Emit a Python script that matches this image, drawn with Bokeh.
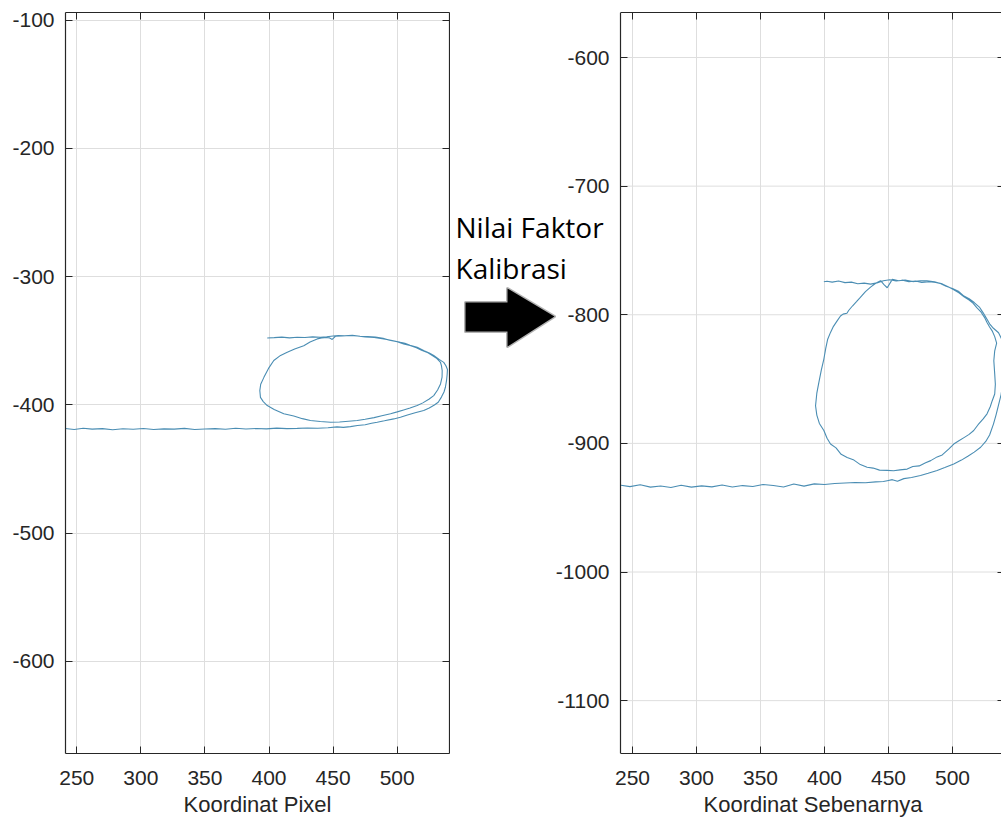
from bokeh.plotting import figure
from bokeh.layouts import row
from bokeh.models import Range1d, LinearAxis, FixedTicker, Label, PolyAnnotation, Title
from bokeh.embed import file_html
from bokeh.resources import INLINE

# ---------------- data ----------------
x_ticks = [250, 300, 350, 400, 450, 500]
y_ticks_pixel = [-100, -200, -300, -400, -500, -600]
y_ticks_real = [-600, -700, -800, -900, -1000, -1100]
y_labels_pixel = ["-100", "-200", "-300", "-400", "-500", "-600"]
y_labels_real = ["-600", "-700", "-800", "-900", "-1000", "-1100"]
x_label_pixel = "Koordinat Pixel"
x_label_real = "Koordinat Sebenarnya"
note_lines = ["Nilai Faktor", "Kalibrasi"]

# trajectory in pixel coordinates (left panel)
pix_x = [241, 248, 255, 262, 270, 278, 286, 294, 302, 310, 318, 326, 334, 342, 350, 358, 366, 374,
         382, 390, 398, 406, 414, 422, 430, 438, 446,
         453, 458, 463.5, 469, 475, 480, 484.4, 490, 497.3, 502.5, 508, 514, 520.7, 525, 529, 532,
         534.5, 536.5, 537.6, 538.5, 539, 539.2, 538, 536.3, 533, 528.5, 525, 521, 515.6, 510, 506,
         502.5, 496, 489.5, 482, 475, 469, 463.5, 457, 452, 449.3, 447, 445.4,
         441, 437.6, 432, 427.1, 420, 414.2, 409, 403.7, 400, 396, 393.5, 392.8, 393.3, 395.5, 398.6,
         404, 411.5, 419.3, 426, 432.3, 440, 448, 455, 462, 468.8, 475, 482, 488, 494.8, 500, 505, 510,
         515.6, 520, 525, 528.5, 531.5, 533.8, 535, 535.1, 534.5, 533.8, 531, 528, 524, 519, 515, 510,
         505, 500, 494, 489, 483, 477, 471, 465, 459, 454, 450, 445,
         440, 434, 428, 422, 416, 410, 404, 398.6]
pix_y = [-418.5, -419.2, -418.3, -419.0, -418.6, -419.4, -418.7, -419.1, -418.5, -419.3, -418.8, -419.0,
         -418.4, -419.2, -418.9, -418.6, -419.1, -418.3, -418.9, -418.5, -418.8, -418.2, -418.6, -418.4,
         -418.1, -418.3, -417.9,
         -417.2, -417.6, -417.0, -416.2, -415.5, -414.4, -413.6, -412.5, -411.0, -409.7, -408.0, -406.2,
         -404.5, -402.5, -400.2, -398.0, -394.0, -390.0, -386.3, -381.0, -376.0, -372.5, -369.5, -366.9,
         -364.8, -361.6, -359.6, -357.8, -355.2, -353.5, -352.0, -351.3, -349.8, -348.6, -347.5, -347.0,
         -346.4, -346.0, -346.3, -346.5, -349.0, -347.8, -347.4,
         -347.9, -348.6, -351.0, -353.9, -356.5, -359.0, -361.5, -365.5, -371.0, -378.6, -384.0, -388.9,
         -394.2, -397.5, -400.6, -403.6, -407.0, -408.8, -410.8, -412.3, -413.0, -413.6, -413.4, -412.8,
         -412.3, -411.3, -410.0, -408.6, -407.0, -405.5, -404.0, -402.5, -400.6, -398.5, -395.5, -392.8,
         -388.5, -383.7, -378.5, -373.3, -369.5, -367.0, -364.0, -362.0, -359.5, -357.5, -355.5, -353.8,
         -352.5, -350.8, -349.7, -348.2, -347.2, -346.8, -346.5, -345.8, -346.2, -346.0, -346.4, -346.9,
         -347.3, -347.0, -347.5, -347.3, -347.8, -347.2, -347.6, -347.9]

# trajectory in real coordinates (right panel)
real_x = [241, 248, 256, 264, 272, 280, 288, 296, 304, 312, 320, 328, 336, 344, 352, 360, 368, 376,
          384, 392, 400, 408, 416, 424, 432, 440, 446,
          449, 453, 457, 462, 468, 475, 481, 488, 494, 501, 507, 512, 517, 522, 526, 529, 532, 534,
          536, 538, 539.5, 540.5, 540, 538.5, 536, 532, 529, 527, 524, 521, 517, 513, 509, 505, 500,
          495, 490, 486, 480, 475, 469, 463, 458, 453, 449, 446.5, 443.8,
          440, 436, 432, 428, 425, 422, 419, 417.5, 414.5, 412.5, 410, 407, 404.7, 402.5, 401, 399.5,
          397.5, 395.6, 394, 393, 394, 396, 399.5, 402, 404.7, 409, 413, 417.7, 423, 428, 433.3, 438,
          443, 449, 454, 459, 464.6, 469, 474, 479, 483, 488, 492, 497, 501, 505, 509, 513, 516.6, 520,
          524, 527, 529.5, 531, 533, 533.5, 533, 532.3, 533, 534.5, 533, 531, 529, 527, 525, 522, 519,
          516, 513, 509, 505, 501, 497, 492, 487, 482, 476, 471, 466, 461, 456, 451, 446,
          441, 436, 431, 426, 421, 416, 411, 406, 402, 399.5]
real_y = [-932.5, -933.6, -932.2, -934.0, -933.1, -934.3, -932.6, -934.0, -933.0, -933.8, -932.4, -933.9,
          -932.8, -933.5, -932.0, -932.8, -933.9, -931.6, -933.2, -931.5, -932.0, -931.2, -930.8, -930.4,
          -930.6, -929.9, -929.6,
          -929.0, -928.2, -929.5, -927.4, -926.5, -925.0, -923.2, -921.0, -918.8, -916.0, -913.0, -910.0,
          -906.8, -903.0, -898.5, -893.5, -885.0, -878.0, -870.0, -862.0, -852.0, -840.0, -828.0, -819.0,
          -814.0, -810.5, -807.0, -803.5, -798.5, -794.0, -790.5, -787.5, -785.5, -782.0, -779.5, -777.8,
          -775.5, -774.4, -773.6, -773.5, -774.2, -773.0, -773.6, -772.5, -779.0, -776.5, -773.5,
          -775.5, -778.5, -782.0, -786.5, -789.8, -793.0, -796.5, -798.8, -799.5, -801.0, -804.6, -809.0,
          -813.7, -819.0, -826.0, -834.4, -843.0, -852.6, -861.0, -870.7, -878.0, -884.5, -890.0, -896.0,
          -900.5, -903.5, -908.5, -911.0, -913.0, -916.5, -918.6, -919.2, -920.8, -921.0, -921.3, -920.6,
          -920.0, -918.0, -917.5, -915.0, -913.4, -910.5, -909.0, -904.5, -900.5, -898.0, -895.5, -893.0,
          -890.0, -885.5, -881.0, -877.0, -871.5, -867.0, -861.6, -854.0, -846.0, -835.7, -828.0, -822.0,
          -817.0, -812.5, -809.5, -806.0, -802.0, -797.5, -794.5, -791.0, -788.5, -786.0, -783.0, -780.5,
          -778.5, -776.0, -774.8, -774.2, -774.8, -773.8, -774.3, -773.2, -773.8, -772.8, -773.6,
          -775.2, -776.2, -775.4, -775.9, -774.6, -775.0, -773.8, -774.6, -774.0, -774.3]

# ---------------- styling ----------------
LINE_COLOR = "#4a8db3"
AXIS_COLOR = "#262626"
GRID_COLOR = "#dedede"
FONT = "Liberation Sans"
FS = "21px"
FS_LABEL = "22px"

H = 820
FRAME_TOP, FRAME_BOTTOM = 12, 753

# left panel: frame x 65..449
X1 = (241.2, 540.8)
Y1 = (-671.9, -94.1)
# right panel: axes box x 620..1004 (past the page edge); figure frame starts at 450 (room for the note)
X2A, X2E = 240.6, 538.3
Y2 = (-1141.1, -565.0)
P2_LEFT, P2_AXIS, P2_RIGHT, P2_BOX_RIGHT = 450, 620, 1001, 1004
SX2 = (P2_RIGHT - P2_AXIS) / (X2E - X2A)
X2 = (X2A - (P2_AXIS - P2_LEFT) / SX2, X2E)
TITLE2_LEFT = 703   # left edge of the right panel's x-axis title (page px)


def style_axis(ax, ticks, labels=None):
    ax.ticker = FixedTicker(ticks=ticks)
    ax.major_tick_in = 7
    ax.major_tick_out = 0
    ax.minor_tick_in = 0
    ax.minor_tick_out = 0
    ax.axis_line_color = AXIS_COLOR
    ax.axis_line_width = 1.2
    ax.major_tick_line_color = AXIS_COLOR
    ax.major_label_text_font = FONT
    ax.major_label_text_font_size = FS
    ax.major_label_text_color = AXIS_COLOR
    if labels is not None:
        ax.major_label_overrides = {t: s for t, s in zip(ticks, labels)}


def mirror_axis(p, place, ticks, bounds=None, fixed=None):
    ax = LinearAxis(ticker=FixedTicker(ticks=ticks), major_tick_in=7, major_tick_out=0,
                    minor_tick_in=0, minor_tick_out=0, major_label_text_font_size="1px",
                    major_label_text_color=None, major_label_standoff=0,
                    axis_line_color=AXIS_COLOR, axis_line_width=1.2,
                    major_tick_line_color=AXIS_COLOR)
    if bounds is not None:
        ax.bounds = bounds
    if fixed is not None:
        ax.fixed_location = fixed
    p.add_layout(ax, place)


def base_fig(width, left_b, right_b, xr, yr):
    p = figure(width=width, height=H, output_backend="svg", toolbar_location=None,
               x_range=Range1d(*xr), y_range=Range1d(*yr),
               min_border_left=left_b, min_border_right=right_b,
               min_border_top=FRAME_TOP, min_border_bottom=H - FRAME_BOTTOM)
    p.outline_line_color = None
    p.background_fill_color = "white"
    p.border_fill_color = "white"
    p.grid.grid_line_color = GRID_COLOR
    p.grid.grid_line_width = 1
    p.xgrid.ticker = FixedTicker(ticks=x_ticks)
    return p


# ---- left panel ----
p1 = base_fig(450, 65, 1, X1, Y1)
style_axis(p1.xaxis[0], x_ticks)
style_axis(p1.yaxis[0], y_ticks_pixel, y_labels_pixel)
p1.yaxis.major_label_standoff = 11
p1.xaxis.major_label_standoff = 17
p1.xaxis.axis_label = x_label_pixel
p1.xaxis.axis_label_text_font = FONT
p1.xaxis.axis_label_text_font_size = FS_LABEL
p1.xaxis.axis_label_text_font_style = "normal"
p1.xaxis.axis_label_text_color = AXIS_COLOR
p1.xaxis.axis_label_standoff = 4
p1.ygrid.ticker = FixedTicker(ticks=y_ticks_pixel)
mirror_axis(p1, "above", x_ticks)
mirror_axis(p1, "right", y_ticks_pixel)
p1.line(pix_x, pix_y, line_color=LINE_COLOR, line_width=1.1)

# ---- right panel ----
p2 = base_fig(551, 0, 0, X2, Y2)
style_axis(p2.xaxis[0], x_ticks)
p2.xaxis.bounds = (X2A, X2E)
p2.xaxis.major_label_standoff = 17
style_axis(p2.yaxis[0], y_ticks_real, y_labels_real)
p2.yaxis.fixed_location = X2A
p2.yaxis.major_label_standoff = 11
p2.ygrid.visible = False
p2.segment(x0=[X2A] * len(y_ticks_real), x1=[X2E] * len(y_ticks_real),
           y0=y_ticks_real, y1=y_ticks_real, line_color=GRID_COLOR, line_width=1, level="underlay")
mirror_axis(p2, "above", x_ticks, bounds=(X2A, X2E))
mirror_axis(p2, "right", y_ticks_real, fixed=X2E + (P2_BOX_RIGHT - P2_RIGHT) / SX2)
p2.line(real_x, real_y, line_color=LINE_COLOR, line_width=1.1)

# x-axis title of the right panel, placed under its axes box
p2.add_layout(Title(text=x_label_real, align="left", offset=TITLE2_LEFT - P2_LEFT,
                    text_font=FONT, text_font_size=FS_LABEL, text_font_style="normal",
                    text_color=AXIS_COLOR, standoff=4), "below")


# page pixel -> right-panel data coordinates
def px2(px):
    return X2[0] + (px - P2_LEFT) / SX2


def py2(py):
    return Y2[1] - (py - FRAME_TOP) / (FRAME_BOTTOM - FRAME_TOP) * (Y2[1] - Y2[0])


for txt, base in zip(note_lines, [226, 267]):
    p2.add_layout(Label(x=px2(455), y=py2(base), x_units="data", y_units="data", text=txt,
                        text_font="Open Sans", text_font_size="28px", text_color="black",
                        text_align="left", text_baseline="alphabetic"))

arrow_px = [465, 507, 507, 554, 507, 507, 465]
arrow_py = [302, 302, 288, 316, 346, 331, 331]
p2.add_layout(PolyAnnotation(xs=[px2(v) for v in arrow_px], ys=[py2(v) for v in arrow_py],
                             xs_units="data", ys_units="data",
                             fill_color="black", fill_alpha=1.0,
                             line_color="black", line_width=3, line_join="round"))

layout = row(p1, p2)
open("out.html", "w").write(file_html(layout, INLINE))
